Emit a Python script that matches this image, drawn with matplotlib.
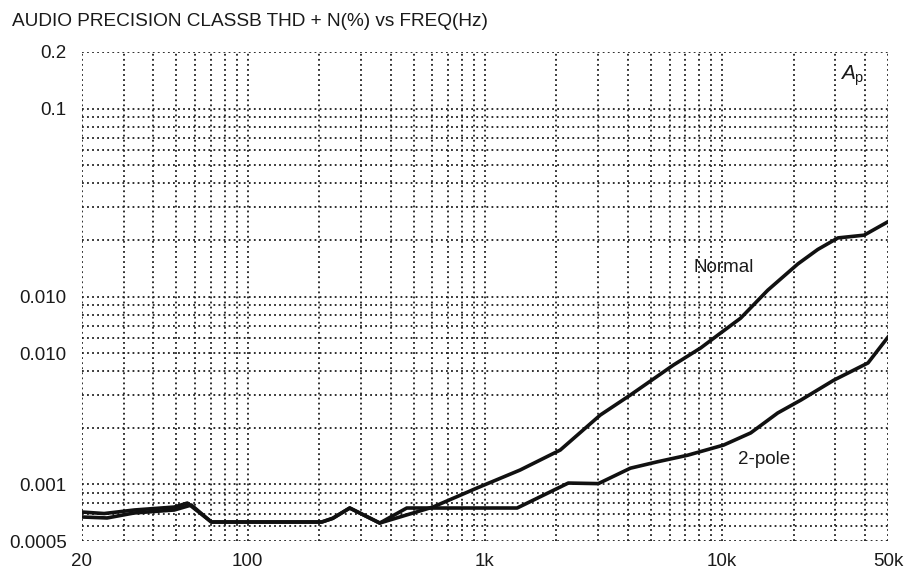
import numpy as np
import matplotlib
matplotlib.use("Agg")
import matplotlib.pyplot as plt
from matplotlib.ticker import FixedLocator, FixedFormatter, LogLocator, NullFormatter

# frequencies (Hz) and THD+N (%)
normal_freq = [20, 24.8, 33.2, 49, 55.6, 70.2, 205, 228, 269, 360, 603, 925, 1406,
               2076, 3062, 4100, 6232, 8110, 9843, 11960, 15560, 20840, 25300,
               30760, 39640, 50000]
normal_thd = [0.000713, 0.000700, 0.000731, 0.000758, 0.000796, 0.000631, 0.000631,
              0.000660, 0.000749, 0.000623, 0.000758, 0.000957, 0.001193, 0.001524,
              0.00234, 0.00299, 0.00432, 0.00532, 0.00639, 0.00767, 0.0108, 0.0149,
              0.0178, 0.0205, 0.0212, 0.0250]

pole2_freq = [20, 25.5, 33.2, 49, 57.8, 70.2, 205, 228, 269, 360, 468, 1366, 2076,
              2244, 3004, 4100, 5335, 7145, 10140, 13190, 17140, 21450, 29580,
              41180, 50000]
pole2_thd = [0.000671, 0.000663, 0.000705, 0.000731, 0.000777, 0.000631, 0.000631,
             0.000660, 0.000749, 0.000623, 0.000749, 0.000749, 0.000969, 0.001017,
             0.001010, 0.00122, 0.00132, 0.00143, 0.00162, 0.00188, 0.00240, 0.00281,
             0.00359, 0.00443, 0.00608]

xticks = [20, 100, 1000, 10000, 50000]
xlabels = ["20", "100", "1k", "10k", "50k"]
# the printed scale really says 0.010 twice (second one sits at 0.005)
yticks = [0.0005, 0.001, 0.005, 0.01, 0.1, 0.2]
ylabels = ["0.0005", "0.001", "0.010", "0.010", "0.1", "0.2"]

title = "AUDIO PRECISION CLASSB THD + N(%) vs FREQ(Hz)"


def main():
    plt.rcParams['font.family'] = ['Liberation Sans', 'DejaVu Sans']
    plt.rcParams['mathtext.fontset'] = 'custom'
    plt.rcParams['mathtext.rm'] = 'Liberation Sans'
    plt.rcParams['mathtext.it'] = 'Liberation Sans:italic'

    fig = plt.figure(figsize=(9.09, 5.71), dpi=100)
    ax = fig.add_axes([82/909, 30/571, 806/909, 489/571])

    ax.set_xscale('log')
    ax.set_yscale('log')
    ax.set_xlim(20, 50000)
    ax.set_ylim(0.0005, 0.2)

    ax.xaxis.set_major_locator(FixedLocator(xticks))
    ax.xaxis.set_major_formatter(FixedFormatter(xlabels))
    ax.yaxis.set_major_locator(FixedLocator(yticks))
    ax.yaxis.set_major_formatter(FixedFormatter(ylabels))
    ax.xaxis.set_minor_locator(LogLocator(base=10, subs=np.arange(1, 10), numticks=100))
    ax.yaxis.set_minor_locator(LogLocator(base=10, subs=np.arange(1, 10), numticks=100))
    ax.xaxis.set_minor_formatter(NullFormatter())
    ax.yaxis.set_minor_formatter(NullFormatter())

    ax.tick_params(which='both', length=0, labelsize=13.5, colors='#1a1a1a')
    ax.tick_params(axis='x', pad=9)
    ax.tick_params(axis='y', pad=11)

    # dotted chart-paper grid
    ax.grid(True, which='both', color='#1e1e1e', linestyle=(0, (1, 1.8)), linewidth=1.3)
    for s in ax.spines.values():
        s.set_visible(False)

    ax.plot(normal_freq, normal_thd, color='#111111', linewidth=2.6)
    ax.plot(pole2_freq, pole2_thd, color='#111111', linewidth=2.6)

    ax.text(724/909, 1 - 267/571, "Normal", transform=fig.transFigure, fontsize=13.5,
            ha='center', va='center', color='#1a1a1a')
    ax.text(764/909, 1 - 459/571, "2-pole", transform=fig.transFigure, fontsize=13.5,
            ha='center', va='center', color='#1a1a1a')
    ax.text(852/909, 1 - 76/571, r"$\mathit{A}_{\mathrm{p}}$", transform=fig.transFigure,
            fontsize=15, ha='center', va='center', color='#1a1a1a')

    fig.text(12/909, 1 - 22/571, title, fontsize=13.7, ha='left', va='center', color='#1a1a1a')

    fig.savefig("out.png", dpi=100)


main()
